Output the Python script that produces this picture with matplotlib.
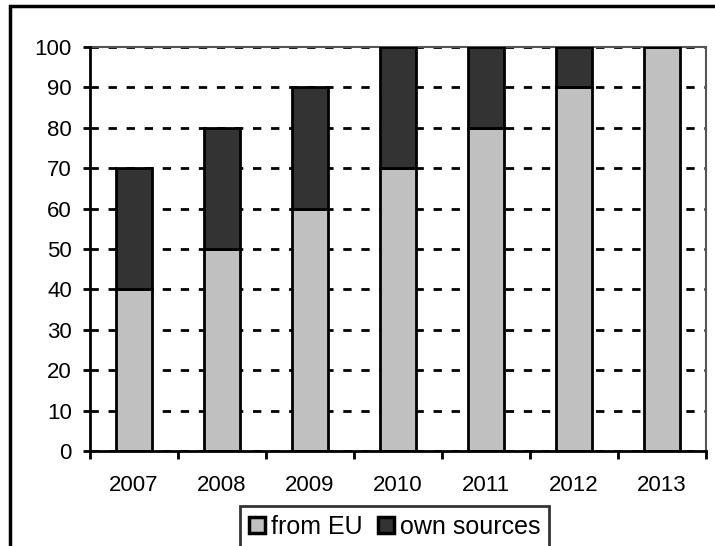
import matplotlib.pyplot as plt
from matplotlib.patches import Rectangle
import numpy as np

plt.rcParams['font.family'] = ['Liberation Sans', 'DejaVu Sans']

# Funding shares by year, percent
years = ['2007', '2008', '2009', '2010', '2011', '2012', '2013']
from_eu = [40, 50, 60, 70, 80, 90, 100]
own_sources = [30, 30, 30, 30, 20, 10, 0]

fig = plt.figure(figsize=(7.15, 5.46), dpi=100)
ax = fig.add_axes([90 / 715, 1 - 451 / 546, 616 / 715, 404 / 546])

x = np.arange(len(years))
ax.bar(x, from_eu, width=0.4, color='#c0c0c0', edgecolor='black',
       linewidth=2, label='from EU', zorder=3)
ax.bar(x, own_sources, width=0.4, bottom=from_eu, color='#333333',
       edgecolor='black', linewidth=2, label='own sources', zorder=3)

ax.set_xlim(-0.5, len(years) - 0.5)
ax.set_ylim(0, 100)
ax.set_yticks(range(0, 101, 10))
ax.yaxis.grid(True, color='black', linewidth=2, linestyle=(0, (3, 3.5)), zorder=1)
ax.set_axisbelow(True)

# year labels at the centres, tick marks between the categories
ax.set_xticks(x)
ax.set_xticklabels(years)
ax.set_xticks(np.arange(-0.5, len(years)), minor=True)
ax.tick_params(axis='x', which='major', length=0, pad=17, labelsize=16)
ax.tick_params(axis='x', which='minor', length=6, width=2, direction='out')
ax.tick_params(axis='y', length=5, width=2, direction='out', pad=8, labelsize=16)

for side in ['left', 'bottom']:
    ax.spines[side].set_linewidth(2)
    ax.spines[side].set_zorder(4)
for side in ['top', 'right']:
    ax.spines[side].set_linewidth(1.5)
    ax.spines[side].set_color('#555555')

leg = fig.legend(loc='upper left', bbox_to_anchor=(240 / 715, 1 - 506 / 546),
                 ncol=2, fontsize=18, frameon=True, fancybox=False,
                 edgecolor='black', borderaxespad=0, borderpad=0.36,
                 handlelength=0.64, handleheight=0.64, handletextpad=0.24,
                 columnspacing=0.6)
leg.get_frame().set_linewidth(2)
for h in leg.legend_handles:
    h.set_linewidth(2.5)

# outer chart frame
fig.patches.append(Rectangle((10 / 715, -0.1), 1.2, 1 - 6 / 546 + 0.1,
                             transform=fig.transFigure, fill=False,
                             edgecolor='black', linewidth=2.5))

fig.savefig('out.png', dpi=100)
